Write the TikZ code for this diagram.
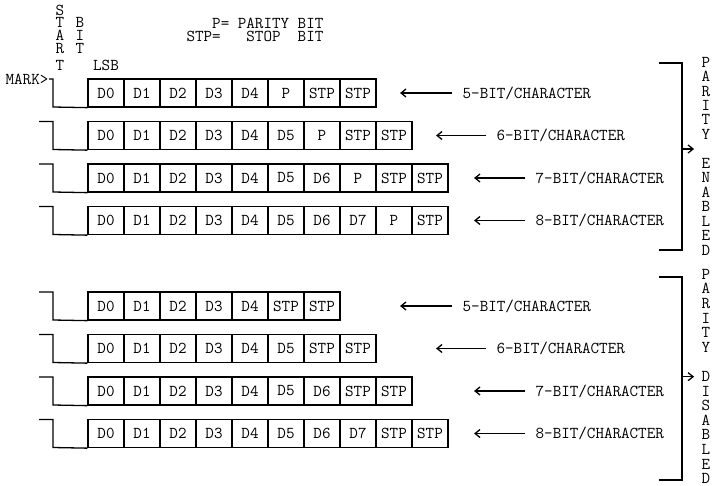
\documentclass[tikz,border=0pt]{standalone}
\usepackage{fontspec}
\usetikzlibrary{arrows.meta}
\newlength{\du}
\setlength{\du}{1pt}
\newcommand{\typew}{\ttfamily}
\tikzset{
  cell/.style={draw, minimum width=36\du, minimum height=28\du, inner sep=0pt},
  lbl/.style={anchor=west, inner sep=0pt},
  barb/.style={-{Straight Barb[length=5pt,width=8pt]}},
  col/.style={align=center, inner sep=0pt},
}
\begin{document}
\begin{tikzpicture}[every node/.style={font=\typew\fontsize{16.6}{16.6}\selectfont}]
\pgftransformxscale{1.000000}
\pgftransformyscale{-1.000000}
\definecolor{dialinecolor}{rgb}{0.000000, 0.000000, 0.000000}
\pgfsetstrokecolor{dialinecolor}
\pgfsetlinewidth{1.300000\du}
\useasboundingbox (0\du,0\du) rectangle (719\du,486\du);
% header
\node[col, font=\typew\fontsize{16.6}{12.8}\selectfont] (start) at (60\du,37.5\du){S\\T\\A\\R\\[4\du]T};
\node[col, font=\typew\fontsize{16.6}{12.8}\selectfont] (bit) at (80\du,35.5\du){B\\I\\T};
\node[inner sep=0pt] (lsb) at (106\du,65\du){LSB};
\node[anchor=east, inner sep=0pt] (pdef) at (324\du,23\du){P= PARITY BIT};
\node[anchor=east, inner sep=0pt] (sdef) at (324\du,36\du){STP=\ \ \ STOP\ \ BIT};
% 5-bit, parity enabled
\node[anchor=east, inner sep=0pt] (mark) at (49\du,79\du){MARK>};
\node[cell] (e5c1) at (106\du,93\du){D0};
\node[cell] (e5c2) at (142\du,93\du){D1};
\node[cell] (e5c3) at (178\du,93\du){D2};
\node[cell] (e5c4) at (214\du,93\du){D3};
\node[cell] (e5c5) at (250\du,93\du){D4};
\node[cell] (e5c6) at (286\du,93\du){P};
\node[cell] (e5c7) at (322\du,93\du){STP};
\node[cell] (e5c8) at (358\du,93\du){STP};
\draw (mark.east) -- ++(4\du,0) -- ++(0,28\du) -- (e5c1.south west);
\coordinate (e5t) at (400\du,93\du);
\node[lbl] (e5l) at (462\du,93\du){5-BIT/CHARACTER};
\draw[barb, shorten <=10\du] (e5l.west) -- (e5t);
% 6-bit, parity enabled
\coordinate (e6m) at (39\du,121.5\du);
\node[cell] (e6c1) at (106\du,135.5\du){D0};
\node[cell] (e6c2) at (142\du,135.5\du){D1};
\node[cell] (e6c3) at (178\du,135.5\du){D2};
\node[cell] (e6c4) at (214\du,135.5\du){D3};
\node[cell] (e6c5) at (250\du,135.5\du){D4};
\node[cell] (e6c6) at (286\du,135.5\du){D5};
\node[cell] (e6c7) at (322\du,135.5\du){P};
\node[cell] (e6c8) at (358\du,135.5\du){STP};
\node[cell] (e6c9) at (394\du,135.5\du){STP};
\draw (e6m) -- ++(14\du,0) -- ++(0,28\du) -- (e6c1.south west);
\coordinate (e6t) at (436\du,135.5\du);
\node[lbl] (e6l) at (496\du,135.5\du){6-BIT/CHARACTER};
\draw[barb, shorten <=10\du] (e6l.west) -- (e6t);
% 7-bit, parity enabled
\coordinate (e7m) at (39\du,164\du);
\node[cell] (e7c1) at (106\du,178\du){D0};
\node[cell] (e7c2) at (142\du,178\du){D1};
\node[cell] (e7c3) at (178\du,178\du){D2};
\node[cell] (e7c4) at (214\du,178\du){D3};
\node[cell] (e7c5) at (250\du,178\du){D4};
\node[cell] (e7c6) at (286\du,178\du){D5};
\node[cell] (e7c7) at (322\du,178\du){D6};
\node[cell] (e7c8) at (358\du,178\du){P};
\node[cell] (e7c9) at (394\du,178\du){STP};
\node[cell] (e7c10) at (430\du,178\du){STP};
\draw (e7m) -- ++(14\du,0) -- ++(0,28\du) -- (e7c1.south west);
\coordinate (e7t) at (474\du,178\du);
\node[lbl] (e7l) at (535\du,178\du){7-BIT/CHARACTER};
\draw[barb, shorten <=10\du] (e7l.west) -- (e7t);
% 8-bit, parity enabled
\coordinate (e8m) at (39\du,206.5\du);
\node[cell] (e8c1) at (106\du,220.5\du){D0};
\node[cell] (e8c2) at (142\du,220.5\du){D1};
\node[cell] (e8c3) at (178\du,220.5\du){D2};
\node[cell] (e8c4) at (214\du,220.5\du){D3};
\node[cell] (e8c5) at (250\du,220.5\du){D4};
\node[cell] (e8c6) at (286\du,220.5\du){D5};
\node[cell] (e8c7) at (322\du,220.5\du){D6};
\node[cell] (e8c8) at (358\du,220.5\du){D7};
\node[cell] (e8c9) at (394\du,220.5\du){P};
\node[cell] (e8c10) at (430\du,220.5\du){STP};
\draw (e8m) -- ++(14\du,0) -- ++(0,28\du) -- (e8c1.south west);
\coordinate (e8t) at (474\du,220.5\du);
\node[lbl] (e8l) at (535\du,220.5\du){8-BIT/CHARACTER};
\draw[barb, shorten <=10\du] (e8l.west) -- (e8t);
% 5-bit, parity disabled
\coordinate (d5m) at (39\du,292\du);
\node[cell] (d5c1) at (106\du,306\du){D0};
\node[cell] (d5c2) at (142\du,306\du){D1};
\node[cell] (d5c3) at (178\du,306\du){D2};
\node[cell] (d5c4) at (214\du,306\du){D3};
\node[cell] (d5c5) at (250\du,306\du){D4};
\node[cell] (d5c6) at (286\du,306\du){STP};
\node[cell] (d5c7) at (322\du,306\du){STP};
\draw (d5m) -- ++(14\du,0) -- ++(0,28\du) -- (d5c1.south west);
\coordinate (d5t) at (400\du,306\du);
\node[lbl] (d5l) at (462\du,306\du){5-BIT/CHARACTER};
\draw[barb, shorten <=10\du] (d5l.west) -- (d5t);
% 6-bit, parity disabled
\coordinate (d6m) at (39\du,334.5\du);
\node[cell] (d6c1) at (106\du,348.5\du){D0};
\node[cell] (d6c2) at (142\du,348.5\du){D1};
\node[cell] (d6c3) at (178\du,348.5\du){D2};
\node[cell] (d6c4) at (214\du,348.5\du){D3};
\node[cell] (d6c5) at (250\du,348.5\du){D4};
\node[cell] (d6c6) at (286\du,348.5\du){D5};
\node[cell] (d6c7) at (322\du,348.5\du){STP};
\node[cell] (d6c8) at (358\du,348.5\du){STP};
\draw (d6m) -- ++(14\du,0) -- ++(0,28\du) -- (d6c1.south west);
\coordinate (d6t) at (436\du,348.5\du);
\node[lbl] (d6l) at (496\du,348.5\du){6-BIT/CHARACTER};
\draw[barb, shorten <=10\du] (d6l.west) -- (d6t);
% 7-bit, parity disabled
\coordinate (d7m) at (39\du,377\du);
\node[cell] (d7c1) at (106\du,391\du){D0};
\node[cell] (d7c2) at (142\du,391\du){D1};
\node[cell] (d7c3) at (178\du,391\du){D2};
\node[cell] (d7c4) at (214\du,391\du){D3};
\node[cell] (d7c5) at (250\du,391\du){D4};
\node[cell] (d7c6) at (286\du,391\du){D5};
\node[cell] (d7c7) at (322\du,391\du){D6};
\node[cell] (d7c8) at (358\du,391\du){STP};
\node[cell] (d7c9) at (394\du,391\du){STP};
\draw (d7m) -- ++(14\du,0) -- ++(0,28\du) -- (d7c1.south west);
\coordinate (d7t) at (474\du,391\du);
\node[lbl] (d7l) at (535\du,391\du){7-BIT/CHARACTER};
\draw[barb, shorten <=10\du] (d7l.west) -- (d7t);
% 8-bit, parity disabled
\coordinate (d8m) at (39\du,419.5\du);
\node[cell] (d8c1) at (106\du,433.5\du){D0};
\node[cell] (d8c2) at (142\du,433.5\du){D1};
\node[cell] (d8c3) at (178\du,433.5\du){D2};
\node[cell] (d8c4) at (214\du,433.5\du){D3};
\node[cell] (d8c5) at (250\du,433.5\du){D4};
\node[cell] (d8c6) at (286\du,433.5\du){D5};
\node[cell] (d8c7) at (322\du,433.5\du){D6};
\node[cell] (d8c8) at (358\du,433.5\du){D7};
\node[cell] (d8c9) at (394\du,433.5\du){STP};
\node[cell] (d8c10) at (430\du,433.5\du){STP};
\draw (d8m) -- ++(14\du,0) -- ++(0,28\du) -- (d8c1.south west);
\coordinate (d8t) at (474\du,433.5\du);
\node[lbl] (d8l) at (535\du,433.5\du){8-BIT/CHARACTER};
\draw[barb, shorten <=10\du] (d8l.west) -- (d8t);
% brackets
\coordinate (etop) at (659\du,63\du);
\coordinate (ebot) at (659\du,250\du);
\coordinate (emid) at (682\du,149\du);
\draw (etop) -- ++(23\du,0) |- (ebot);
\node[col, font=\typew\fontsize{16.6}{14.46}\selectfont] (pen) at (706\du,156\du){P\\A\\R\\I\\T\\Y\\[14.46\du]E\\N\\A\\B\\L\\E\\D};
\draw[barb, shorten >=7\du] (emid) -- (emid -| pen.west);
\coordinate (dtop) at (659\du,277\du);
\coordinate (dbot) at (659\du,480\du);
\coordinate (dmid) at (682\du,376.7\du);
\draw (dtop) -- ++(23\du,0) |- (dbot);
\node[col, font=\typew\fontsize{16.6}{14.6}\selectfont] (pdis) at (706\du,376.5\du){P\\A\\R\\I\\T\\Y\\[14.6\du]D\\I\\S\\A\\B\\L\\E\\D};
\draw[barb, shorten >=7\du] (dmid) -- (dmid -| pdis.west);
\end{tikzpicture}
\end{document}
